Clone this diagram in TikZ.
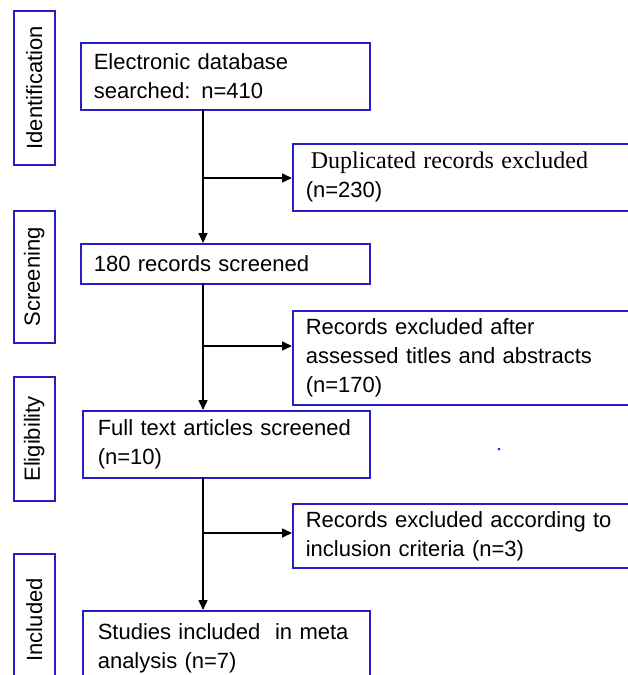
\documentclass[tikz,border=0pt]{standalone}
\usepackage{fontspec}
\setmainfont{Liberation Sans}
\newfontfamily\serifx{Liberation Serif}
\usetikzlibrary{arrows.meta}
\definecolor{bord}{RGB}{40,30,200}
\tikzset{
  box/.style={draw=bord, line width=1.6pt, anchor=north west, align=left, inner ysep=0pt,
    inner xsep=13pt, font=\fontsize{22}{29}\selectfont},
  side/.style={draw=bord, line width=1.6pt, anchor=north west, inner sep=0pt, minimum width=41pt},
  sidetext/.style={rotate=90, font=\fontsize{22}{26}\selectfont},
  arr/.style={line width=1.6pt, -{Triangle[length=10pt,width=9pt]}},
}
\begin{document}
\begin{tikzpicture}[x=1pt,y=-1pt]
\useasboundingbox (0,0) rectangle (628,675);
\clip (0,0) rectangle (628,675);
% side labels
\node[side, minimum height=154pt] (sid1) at (13,10) {};
\node[sidetext] (sidt1) at (sid1.center) {Identification};
\node[side, minimum height=132pt] (sid2) at (13,210) {};
\node[sidetext] (sidt2) at (sid2.center) {Screening};
\node[side, minimum height=124pt] (sid3) at (13,376) {};
\node[sidetext] (sidt3) at (sid3.center) {Eligibility};
\node[side, minimum height=140pt] (sid4) at (13,553) {};
\node[sidetext] (sidt4) at ([yshift=4pt]sid4.center) {Included};
% main boxes
\node[box, minimum width=289pt, minimum height=67pt, text width=263pt] (b1) at (80,42)
  {Electronic database\\searched: n=410};
\node[box, minimum width=289pt, minimum height=40pt, text width=263pt] (b2) at (80,243)
  {180 records screened};
\node[box, minimum width=287pt, minimum height=67pt, text width=261pt, inner xsep=11pt] (b3) at (82,410)
  {\hspace*{2pt}Full text articles screened\\\hspace*{2pt}(n=10)};
\node[box, minimum width=287pt, minimum height=76pt, text width=261pt, inner xsep=11pt] (b4) at (82,610)
  {\hspace*{2pt}Studies included~ in meta\\\hspace*{2pt}analysis (n=7)};
% exclusion boxes
\node[box, minimum width=345pt, minimum height=67pt, text width=319pt] (e1) at (292,143)
  {\hspace*{5pt}{\serifx\fontsize{24}{29}\selectfont Duplicated records excluded}\\(n=230)};
\node[box, minimum width=345pt, minimum height=94pt, text width=319pt] (e2) at (292,310)
  {Records excluded after\\assessed titles and abstracts\\(n=170)};
\node[box, minimum width=345pt, minimum height=64pt, text width=319pt] (e3) at (292,503)
  {Records excluded according to\\inclusion criteria (n=3)};
% trunk
\coordinate (t1) at (203,109);
\coordinate (t2) at (203,283);
\coordinate (t3) at (203,477);
\coordinate (j1) at (203,178);
\coordinate (j2) at (203,346);
\coordinate (j3) at (203,533);
\draw[arr] (t1) -- (t1 |- b2.north);
\draw[arr] (t2) -- (t2 |- b3.north);
\draw[arr] (t3) -- (t3 |- b4.north);
\draw[arr] (j1) -- (j1 -| e1.west);
\draw[arr] (j2) -- (j2 -| e2.west);
\draw[arr] (j3) -- (j3 -| e3.west);
% stray dot
\fill[bord] (499,449) circle (1.5pt);
\end{tikzpicture}
\end{document}
